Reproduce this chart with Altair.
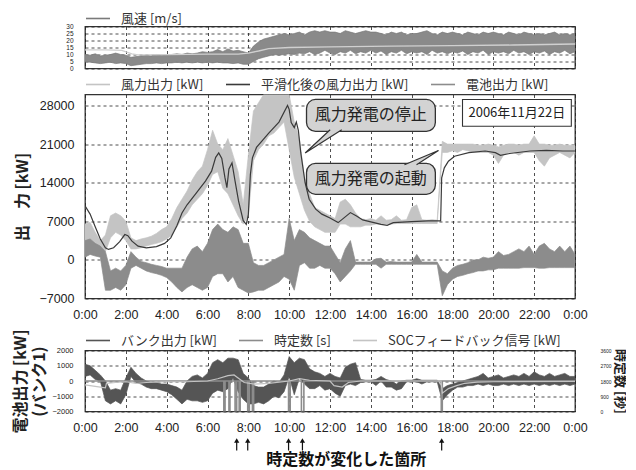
import altair as alt
import pandas as pd

# ---------------- data ----------------
HOURS = [i * 0.25 for i in range(97)]  # 0:00 .. 24:00, 15-minute grid

# wind speed band [m/s]
WS_LO = [5, 4.5, 4, 3.5, 4, 4.5, 3.5, 4, 3.5,
         2, 2.5, 3, 3.5, 3.5, 4, 3.5, 4,
         4, 4.5, 4, 4.5, 4, 4.5, 4, 4.5,
         4, 4.5, 4, 4, 3.5, 4, 3, 3,
         5, 7, 8, 9, 10, 9.5, 10, 10.5,
         10, 11, 10.5, 12, 10, 11, 13, 11,
         10, 12, 11, 13, 10.5, 12, 11, 13,
         11, 12.5, 10, 12, 11, 13, 10.5, 12,
         11, 12, 10, 13, 11, 12, 10.5, 12,
         11, 12.5, 10, 12, 11, 13, 10, 12,
         11, 12, 10.5, 13, 11, 12, 10, 12,
         11, 12.5, 10, 12, 11, 13, 10.5, 12]
WS_HI = [10, 9.5, 10.5, 9, 9.5, 10, 11, 10, 9.5,
         8, 8.5, 9, 9.5, 9, 10, 9.5, 10,
         10, 10.5, 10, 11, 10.5, 11, 12, 11.5,
         12, 13.5, 12, 14, 12.5, 13, 12, 11,
         16, 19, 21, 22, 23, 24, 25, 24,
         25, 26, 24, 26, 27, 26, 27, 26,
         26, 25, 27, 26, 25, 26, 27, 26,
         26, 25, 24, 26, 25, 26, 24, 25,
         25, 26, 27, 25, 24, 26, 25, 26,
         25, 24, 26, 25, 24, 26, 25, 26,
         25, 24, 26, 25, 24, 26, 25, 24,
         25, 24, 25, 26, 24, 25, 24, 25]
WS_AVG = [(0, 13.3), (1.0, 13.3), (1.8, 13.0), (2.3, 10.5), (2.6, 9.8), (4.0, 9.9),
          (6.0, 10.3), (7.5, 10.3), (8.0, 11.0), (8.5, 12.5), (9.0, 14.2), (10.0, 15.0),
          (12.0, 15.5), (15.0, 16.0), (18.0, 16.3), (21.0, 16.8), (24.0, 17.5)]

# wind farm output band [kW]
WP_LO = [2000, 2500, 2000, 1500, 1500, 4000, 5000, 4500, 3500,
         2000, 2000, 2200, 2500, 2800, 3000, 3300, 3800,
         4500, 6000, 7500, 8500, 10000, 11000, 12000, 13500,
         15500, 16000, 13000, 12000, 10000, 8000, 6500, 8000,
         18000, 20000, 21000, 22500, 23000, 24000, 25000, 20000,
         15000, 12000, 9000, 7000, 6000, 5500, 5000, 5000,
         5000, 6500, 6500, 6000, 6000, 6000, 6300, 6300,
         6500, 6500, 6500, 6500, 6600, 6600, 6600, 6600,
         6600, 6600, 6600, 6600, 6600, 19500, 19500, 19800,
         19500, 20000, 19800, 19500, 19500, 19500, 19500, 19000,
         17500, 19000, 19500, 19500, 19000, 19500, 19500, 19500,
         18000, 17000, 18500, 19000, 19500, 19000, 18500, 19500]
WP_HI = [6500, 6800, 5000, 3500, 4500, 8000, 8500, 8000, 7000,
         4000, 3500, 3800, 4000, 4300, 4800, 5500, 6000,
         7500, 9500, 11000, 12500, 14500, 16000, 17000, 20000,
         23500, 21000, 20000, 22000, 19000, 16000, 10000, 19000,
         27000, 28500, 30000, 30000, 30000, 30000, 30000, 30000,
         25000, 22000, 15000, 12000, 9500, 9000, 8500, 8000,
         7500, 10500, 11000, 10000, 8500, 7500, 7300, 7500,
         7200, 8000, 7200, 7300, 8000, 7200, 7300, 9500,
         10000, 7300, 7200, 7300, 7200, 21500, 21000, 21000,
         21000, 21000, 21000, 21000, 20800, 20800, 21000, 20800,
         20500, 20800, 21000, 21000, 20800, 21000, 21000, 22500,
         21000, 21000, 20800, 20800, 21000, 20800, 20800, 20800]

# smoothed output [kW]
SMOOTHED = [(0, 9800), (0.25, 8300), (0.5, 6000), (0.75, 3800), (1.0, 2200), (1.15, 1900),
            (1.4, 2200), (1.7, 3300), (1.95, 4600), (2.1, 4400), (2.3, 3400), (2.6, 2500),
            (3.0, 2200), (3.5, 2400), (3.9, 3000), (4.2, 4000), (4.5, 6200), (4.75, 8500),
            (5.0, 10000), (5.4, 11900), (5.9, 14300), (6.2, 16100), (6.4, 18600), (6.55, 19400),
            (6.7, 18400), (6.85, 15000), (6.95, 13100), (7.05, 16500), (7.2, 17600), (7.35, 14300),
            (7.52, 10700), (7.75, 7100), (7.9, 6450), (8.0, 8200), (8.1, 15500), (8.2, 18500),
            (8.4, 20400), (9.0, 23000), (9.5, 25000), (9.92, 28000), (10.0, 27300), (10.1, 24900),
            (10.25, 24000), (10.35, 25000), (10.45, 23500), (10.57, 19400), (10.78, 14000),
            (10.98, 11000), (11.3, 9200), (11.6, 8300), (12.0, 7600), (12.4, 6760), (12.7, 7670),
            (13.0, 8580), (13.3, 7970), (13.6, 7250), (14.0, 6890), (14.5, 6460), (14.8, 6280),
            (15.1, 6760), (16.0, 6950), (16.8, 7070), (17.42, 7070), (17.47, 14900), (17.6, 16700),
            (17.8, 17900), (18.1, 18800), (18.8, 19450), (19.6, 19750), (20.1, 19450),
            (20.35, 18960), (20.8, 19300), (21.8, 19750), (22.6, 19870), (23.4, 19750), (24.0, 19750)]

# battery output band [kW]
BT_LO = [500, 1000, 700, 500, -5500, -5500, -5000, -5500, -4500,
         -1500, -1000, -1500, -2000, -2300, -2500, -2800, -3200,
         -4000, -5000, -5800, -5000, -4500, -5000, -5500, -5000,
         -3000, -2500, -2500, -4000, -3000, -5000, -5500, -6000,
         -5800, -5500, -5500, -5000, -4500, -4000, -3000, -3500,
         -5500, -1000, -500, -1500, -1500, -1000, -1500, -1500,
         -2500, -4000, -3000, -2000, -800, -800, -800, -800,
         -800, -1500, -800, -800, -800, -800, -800, -800,
         -800, -800, -800, -800, -800, -6500, -4500, -3500,
         -3000, -2800, -2500, -2300, -2000, -2000, -1800, -1800,
         -1500, -1500, -1500, -1500, -1500, -1400, -1400, -1400,
         -1500, -1500, -1400, -1400, -1400, -1400, -1400, -1400]
BT_HI = [3500, 3800, 3000, 2500, 1500, -2000, -1500, -2000, -1000,
         1500, 500, -300, -500, -800, -1000, -1200, -1500,
         -1500, -1500, -1500, 500, 2000, 2500, 1500, 3000,
         5500, 6500, 5500, 5000, 6000, 5500, 3000, 3000,
         -500, -1000, -1000, -500, 0, 500, 1000, 7500,
         3500, 5500, 5000, 4000, 3500, 3000, 2500, 2500,
         1000, -500, 2000, 3500, -400, -400, -400, -400,
         200, 300, -400, -300, -400, -400, -400, -400,
         1000, -400, -400, -400, -400, -2000, -2500, -1500,
         -1000, -800, -500, 0, 0, 500, 300, 500,
         1500, 800, 1000, 1500, 2000, 1500, 2500, 1000,
         2500, 3000, 2000, 1500, 2500, 1500, 2500, 1000]

# bank 1 output band [kW]
BK_LO = [300, 400, 100, 0, -1300, -1500, -1300, -1500, -900,
         300, -100, -200, -400, -500, -500, -600, -700,
         -900, -1200, -1500, -1200, -1300, -1300, -1400, -1300,
         -800, -600, -700, -500, 200, -700, -1200, -1500,
         -1500, -1400, -1500, -1300, -1000, -1100, -700, 300,
         -900, 200, -200, -500, -500, -300, -600, -500,
         -800, -1000, -300, -200, -300, -100, -50, -50,
         -300, 0, -400, -400, -600, -500, -50, -50,
         -50, -200, -50, -50, -50, -1300, -900, -600,
         -400, -400, -300, -300, -200, -300, -200, -300,
         -300, -200, -300, -200, -300, -200, -300, -200,
         -300, -200, -300, -200, -300, -200, -300, -200]
BK_HI = [1100, 1000, 700, 400, 0, -600, -500, -600, 200,
         900, 500, 200, 0, -100, -100, -200, -200,
         -300, -400, -600, 0, 300, 400, 200, 500,
         1200, 1400, 1200, 1500, 1500, 1400, 500, 200,
         -300, -400, -400, -200, 0, -100, 400, 1600,
         1200, 1500, 1400, 800, 600, 500, 300, 500,
         300, 200, 900, 1100, 1200, 100, 50, 50,
         100, 300, 100, 0, -200, 0, 50, 50,
         150, 50, 50, 50, 50, -500, -300, -200,
         -100, 0, 100, 200, 300, 500, 200, 300,
         400, 200, 300, 400, 300, 500, 300, 600,
         400, 300, 500, 300, 400, 500, 300, 300]

# time constant [s]
TIME_CONST = [(0, 1800), (6.8, 1800), (6.8, 0), (6.86, 0), (6.86, 1800), (7.05, 1800), (7.05, 0),
              (7.1, 0), (7.1, 1800), (7.35, 1800), (7.35, 0), (7.43, 0), (7.43, 1800), (7.55, 1800),
              (7.55, 0), (7.6, 0), (7.6, 1800), (7.97, 1800), (7.97, 0), (8.05, 0), (8.05, 1800),
              (8.2, 1800), (8.2, 0), (8.26, 0), (8.26, 1800), (9.97, 1800), (9.97, 0), (10.05, 0),
              (10.05, 1800), (10.6, 1800), (10.6, 0), (10.72, 0), (10.72, 1800), (17.45, 1800),
              (17.45, 0), (17.5, 0), (17.5, 1800), (24.0, 1800)]

# SOC feedback signal [kW]
SOC_FB = [(0, -250), (0.5, -350), (1.0, -450), (1.05, -150), (1.5, -100), (2.0, -50), (2.5, -150),
          (3.0, -100), (4.0, -50), (5.0, -50), (6.0, 0), (6.5, 150), (7.0, 350), (7.3, 400),
          (7.5, 200), (7.8, -100), (8.3, -200), (9.0, -150), (10.0, 0), (10.5, 150), (11.0, 50),
          (12.0, 0), (12.2, -300), (12.6, -400), (12.9, -100), (13.5, 0), (17.44, 0), (17.5, -800),
          (17.8, -500), (18.2, -300), (18.6, -150), (19.2, -80), (20.0, -50), (24.0, -30)]

ARROW_T = [7.43, 7.97, 9.97, 10.65, 17.47]

WS_NAME = "風速 [m/s]"
WP_NAME = "風力出力 [kW]"
SM_NAME = "平滑化後の風力出力 [kW]"
BT_NAME = "電池出力 [kW]"
BK_NAME = "バンク出力 [kW]"
TC_NAME = "時定数 [s]"
SOC_NAME = "SOCフィードバック信号 [kW]"

# annotations (data coordinates: hour, kW)
CALLOUT_T = [10.85, 10.85]
CALLOUT_T2 = [17.16, 17.16]
CALLOUT_V = [29100, 17500]
CALLOUT_V2 = [23300, 11900]
CALLOUT_TEXT = ["風力発電の停止", "風力発電の起動"]
CALLOUT_TX = [14.0, 14.0]
CALLOUT_TY = [26200, 14700]
DATE_BOX = dict(t=18.49, t2=23.82, v=29100, v2=24240)
DATE_TEXT = dict(t=21.15, v=26690, label="2006年11月22日")
TAIL_STOP = dict(t=11.68, v=21430)
TAIL_START = dict(t=16.48, v=18710)

# ---------------- styling ----------------
FONT_JP = "Noto Sans CJK JP"
FONT_NUM = "Liberation Sans"
INK = "#222222"
W = 490
GRID = dict(grid=True, gridDash=[3, 3], gridColor=INK, gridWidth=0.8)
XS = alt.Scale(domain=[0, 24], nice=False, zero=False)
LINE_SYMBOL = "M -1 0 L 1 0"


def x_axis(show):
    return alt.Axis(values=list(range(0, 25, 2)), labelExpr="(datum.value % 24) + ':00'",
                    labels=show, ticks=False, domain=False, title=None, labelPadding=10,
                    labelFont=FONT_NUM, labelFontSize=12.5, labelColor=INK, labelFlush=False, **GRID)


def X(show=True, field="t:Q"):
    return alt.X(field, scale=XS, axis=x_axis(show))


def legend(pad, offset):
    return alt.Legend(orient="top", direction="horizontal", title=None, symbolType=LINE_SYMBOL,
                      symbolSize=576, symbolStrokeWidth=1.6, labelFont=FONT_JP, labelFontSize=13,
                      labelColor="#333333", labelOffset=10, labelLimit=400, columnPadding=pad,
                      offset=offset, padding=0)


def band_df(lo, hi, name):
    return pd.DataFrame({"t": HOURS, "lo": lo, "hi": hi, "s": name})


def line_df(pairs, name):
    df = pd.DataFrame(pairs, columns=["t", "v"])
    df["s"] = name
    df["i"] = range(len(df))
    return df


def spacer(h):
    return alt.Chart(pd.DataFrame({"a": [0]})).mark_point(opacity=0).encode(
        x=alt.value(0), y=alt.value(0)).properties(
        width=W, height=h, view=alt.ViewBackground(stroke="transparent"))


# ---------------- top panel: wind speed ----------------
TOP_YS = alt.Scale(domain=[0, 30], nice=False, zero=False)
TOP_YA = alt.Axis(values=[0, 5, 10, 15, 20, 25, 30], title=None, ticks=False, domain=False,
                  labelPadding=12, labelFont=FONT_NUM, labelFontSize=6.5, labelColor=INK, **GRID)
TOP_STROKE = alt.Stroke("s:N", scale=alt.Scale(domain=[WS_NAME], range=["#7a7a7a"]),
                        legend=legend(20, 1.2))

ws_band = alt.Chart(band_df(WS_LO, WS_HI, WS_NAME)).mark_area(
    fill="#8a8a8a", strokeWidth=0.7, clip=True).encode(
    x=X(False), y=alt.Y("lo:Q", scale=TOP_YS, axis=TOP_YA), y2="hi:Q", stroke=TOP_STROKE)
ws_avg = alt.Chart(pd.DataFrame(WS_AVG, columns=["t", "v"])).mark_line(
    color="#d0d0d0", strokeWidth=1.3, clip=True).encode(
    x=X(False), y=alt.Y("v:Q", scale=TOP_YS, axis=TOP_YA))
top = alt.layer(ws_band, ws_avg).properties(width=W, height=42)

# ---------------- middle panel: outputs ----------------
MID_YS = alt.Scale(domain=[-7000, 30000], nice=False, zero=False)
MID_YA = alt.Axis(values=[-7000, 0, 7000, 14000, 21000, 28000], format="d", title="出　力 [kW]",
                  titleFont=FONT_JP, titleFontSize=16, titleFontWeight="bold", titleColor=INK,
                  titlePadding=8.5, labelFont=FONT_NUM, labelFontSize=12.5, labelColor=INK,
                  labelPadding=11, ticks=False, domain=False, **GRID)
MID_STROKE = alt.Stroke("s:N", scale=alt.Scale(domain=[WP_NAME, SM_NAME, BT_NAME],
                                                 range=["#c4c4c4", "#3a3a3a", "#8c8c8c"]),
                        legend=legend(18, 3))


def YM(field):
    return alt.Y(field, scale=MID_YS, axis=MID_YA)


wp_band = alt.Chart(band_df(WP_LO, WP_HI, WP_NAME)).mark_area(
    fill="#c4c4c4", strokeWidth=0.7, clip=True).encode(
    x=X(), y=YM("lo:Q"), y2="hi:Q", stroke=MID_STROKE)
bt_band = alt.Chart(band_df(BT_LO, BT_HI, BT_NAME)).mark_area(
    fill="#8c8c8c", strokeWidth=0.7, clip=True).encode(
    x=X(), y=YM("lo:Q"), y2="hi:Q", stroke=MID_STROKE)
sm_line = alt.Chart(line_df(SMOOTHED, SM_NAME)).mark_line(strokeWidth=1.2, clip=True).encode(
    x=X(), y=YM("v:Q"), stroke=MID_STROKE, order="i:Q")

callout_df = pd.DataFrame({"t": CALLOUT_T, "t2": CALLOUT_T2, "v": CALLOUT_V, "v2": CALLOUT_V2})
callouts = alt.Chart(callout_df).mark_rect(
    fill="#d3d3d3", stroke="#333333", strokeWidth=1.3, cornerRadius=9).encode(
    x=X(), x2="t2:Q", y=YM("v:Q"), y2="v2:Q")
tail_stop = alt.Chart(pd.DataFrame([TAIL_STOP])).mark_point(
    shape="M 0.335 -0.6 L -0.915 0.56 L 0.915 -0.6", size=1600, filled=True, fill="#d3d3d3",
    stroke="#333333", strokeWidth=1.2, opacity=1).encode(x=X(), y=YM("v:Q"))
tail_start = alt.Chart(pd.DataFrame([TAIL_START])).mark_point(
    shape="M -1 0.47 L 1 -0.365 L -0.29 0.47", size=1156, filled=True, fill="#d3d3d3",
    stroke="#333333", strokeWidth=1.2, opacity=1).encode(x=X(), y=YM("v:Q"))
date_box = alt.Chart(pd.DataFrame([DATE_BOX])).mark_rect(
    fill="white", stroke="#333333", strokeWidth=1.1).encode(
    x=X(), x2="t2:Q", y=YM("v:Q"), y2="v2:Q")
callout_text = alt.Chart(pd.DataFrame({"t": CALLOUT_TX, "v": CALLOUT_TY, "label": CALLOUT_TEXT})).mark_text(
    font=FONT_JP, fontSize=16, color=INK).encode(x=X(), y=YM("v:Q"), text="label:N")
date_text = alt.Chart(pd.DataFrame([DATE_TEXT])).mark_text(
    font=FONT_JP, fontSize=13, color=INK).encode(x=X(), y=YM("v:Q"), text="label:N")

mid = alt.layer(wp_band, bt_band, sm_line, callouts, tail_stop, tail_start, date_box,
                callout_text, date_text).properties(width=W, height=204)

# ---------------- bottom panel: bank 1 ----------------
BOT_YS = alt.Scale(domain=[-2000, 2000], nice=False, zero=False)
TC_YS = alt.Scale(domain=[0, 3600], nice=False, zero=False)
BOT_YA = alt.Axis(values=[-2000, -1000, 0, 1000, 2000], format="d", orient="left",
                  title=["電池出力 [kW]", "(バンク1)"], titleFont=FONT_JP, titleFontSize=16,
                  titleFontWeight="bold", titleColor=INK, titlePadding=4.5, titleLineHeight=19,
                  labelFont=FONT_NUM, labelFontSize=7.5, labelColor=INK, labelPadding=12,
                  ticks=False, domain=False, **GRID)
TC_YA = alt.Axis(values=[0, 900, 1800, 2700, 3600], format="d", orient="right", title="時定数 [秒]",
                 titleAngle=90, titleFont=FONT_JP, titleFontSize=13, titleFontWeight="bold",
                 titleColor=INK, titlePadding=1, labelFont=FONT_NUM, labelFontSize=5,
                 labelColor=INK, labelPadding=25, ticks=False, domain=False, grid=False)
BOT_STROKE = alt.Stroke("s:N", scale=alt.Scale(domain=[BK_NAME, TC_NAME, SOC_NAME],
                                                 range=["#555555", "#8c8c8c", "#c4c4c4"]),
                        legend=legend(18, 3.5))

bk_band = alt.Chart(band_df(BK_LO, BK_HI, BK_NAME)).mark_area(
    fill="#555555", strokeWidth=0.7, clip=True).encode(
    x=X(), y=alt.Y("lo:Q", scale=BOT_YS, axis=BOT_YA), y2="hi:Q", stroke=BOT_STROKE)
tc_line = alt.Chart(line_df(TIME_CONST, TC_NAME)).mark_line(strokeWidth=1.6, clip=True).encode(
    x=X(), y=alt.Y("v:Q", scale=TC_YS, axis=TC_YA), stroke=BOT_STROKE, order="i:Q")
soc_line = alt.Chart(line_df(SOC_FB, SOC_NAME)).mark_line(strokeWidth=1.2, clip=True).encode(
    x=X(), y=alt.Y("v:Q", scale=BOT_YS, axis=None), stroke=BOT_STROKE, order="i:Q")

arrow_df = pd.DataFrame({"t": ARROW_T})
arrow_shaft = alt.Chart(arrow_df).mark_rule(color="#111111", strokeWidth=1.2).encode(
    x=X(), y=alt.value(90), y2=alt.value(100))
arrow_head = alt.Chart(arrow_df).mark_point(
    shape="triangle-up", size=28, filled=True, color="#111111", opacity=1).encode(
    x=X(), y=alt.value(90))
note = alt.Chart(pd.DataFrame({"t": [12.8], "label": ["時定数が変化した箇所"]})).mark_text(
    font=FONT_JP, fontSize=16, fontWeight="bold", color="#111111").encode(
    x=X(), y=alt.value(109), text="label:N")

bot = alt.layer(bk_band, tc_line, soc_line, arrow_shaft, arrow_head, note).resolve_scale(
    y="independent").properties(width=W, height=61)

chart = alt.vconcat(top, spacer(24), mid, spacer(50), bot, spacing=1, bounds="flush").resolve_scale(
    stroke="independent").properties(
    padding={"left": 3, "top": -3.5, "right": 0, "bottom": 0}, background="white"
).configure_view(stroke="#333333", strokeWidth=1.3)

chart.save("out.html", embed_options={"renderer": "svg", "actions": False})
